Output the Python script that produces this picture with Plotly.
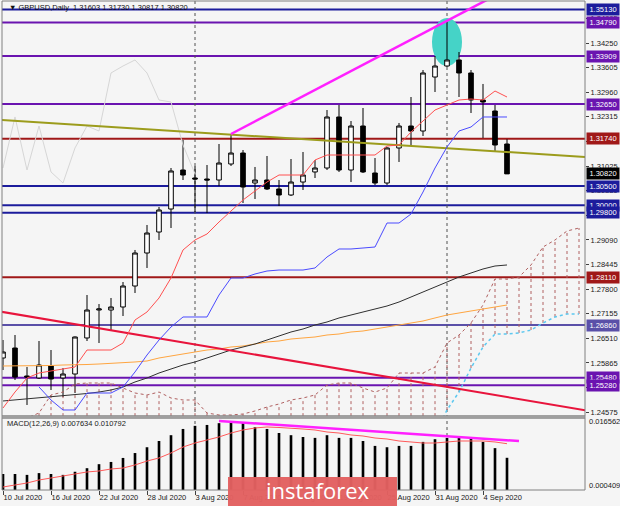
import plotly.graph_objects as go

# ---------------- data (daily GBPUSD, bar index 0 = 10 Jul 2020) ----------------
opens = [1.25995, 1.26257, 1.25524, 1.25471, 1.25786, 1.25471, 1.25576, 1.26520, 1.27253, 1.27253,
         1.27332, 1.27882, 1.28747, 1.29297, 1.29900, 1.30922, 1.30712, 1.30686, 1.30660, 1.31079,
         1.31367, 1.30581, 1.30660, 1.30424, 1.30267, 1.30607, 1.30870, 1.30974, 1.32311, 1.30922,
         1.32075, 1.30843, 1.30581, 1.31499, 1.32075, 1.31944, 1.33359, 1.33647, 1.33805, 1.33464,
         1.32756, 1.32468, 1.31603]
highs = [1.26467, 1.26598, 1.25760, 1.26441, 1.26205, 1.25733, 1.26560, 1.27646, 1.27410, 1.27568,
         1.27987, 1.28826, 1.29481, 1.29952, 1.30974, 1.31708, 1.31027, 1.31053, 1.31603, 1.31865,
         1.31446, 1.31001, 1.31289, 1.30660, 1.31210, 1.31394, 1.31184, 1.32494, 1.32625, 1.32206,
         1.32547, 1.31236, 1.31520, 1.32154, 1.32835, 1.33542, 1.33909, 1.34820, 1.34014, 1.33542,
         1.33176, 1.32625, 1.31730]
lows = [1.25681, 1.25419, 1.24764, 1.25445, 1.25157, 1.24973, 1.25078, 1.26441, 1.26388, 1.26703,
        1.27096, 1.27699, 1.28354, 1.29088, 1.29402, 1.30660, 1.29821, 1.29795, 1.30503, 1.31027,
        1.30057, 1.30162, 1.30398, 1.29979, 1.30241, 1.30398, 1.30712, 1.30922, 1.30870, 1.30607,
        1.30843, 1.30529, 1.30529, 1.31132, 1.31577, 1.31813, 1.32966, 1.33620, 1.32835, 1.32416,
        1.31761, 1.31394, 1.30817]
closes = [1.26153, 1.25497, 1.25497, 1.25812, 1.25445, 1.25576, 1.26546, 1.27253, 1.27280, 1.27332,
          1.27882, 1.28747, 1.29271, 1.29874, 1.30896, 1.30791, 1.30686, 1.30660, 1.31105, 1.31367,
          1.30476, 1.30660, 1.30424, 1.30267, 1.30607, 1.30791, 1.30974, 1.32311, 1.30922, 1.32075,
          1.30870, 1.30581, 1.31499, 1.32075, 1.31944, 1.33464, 1.33647, 1.33805, 1.33464, 1.32756,
          1.32704, 1.31577, 1.30820]

tenkan = [1.24685, 1.25104, 1.25471, 1.25602, 1.25655, 1.25707, 1.25760, 1.26205, 1.26205, 1.26205,
          1.26388, 1.26991, 1.27201, 1.27568, 1.28092, 1.28826, 1.29088, 1.29245, 1.29559, 1.29848,
          1.30136, 1.30372, 1.30607, 1.30791, 1.30791, 1.30791, 1.31184, 1.31315, 1.31315, 1.31315,
          1.31315, 1.31315, 1.31551, 1.31577, 1.31918, 1.32206, 1.32494, 1.32625, 1.32756, 1.32782,
          1.32756, 1.32992, 1.32835]
kijun = [None, None, None, 1.25236, 1.24895, 1.24633, 1.24633, 1.25078, 1.25078, 1.25078,
         1.25236, 1.25629, 1.26074, 1.26467, 1.26808, 1.27070, 1.27070, 1.27070, 1.27646, 1.28092,
         1.28092, 1.28197, 1.28275, 1.28301, 1.28301, 1.28301, 1.28354, 1.28642, 1.28852, 1.28852,
         1.28878, 1.28904, 1.29533, 1.29533, 1.29769, 1.30345, 1.30974, 1.31525, 1.31944, 1.32049,
         1.32311, 1.32311, 1.32311]
ma_black = [1.24869, 1.24895, 1.24921, 1.24947, 1.24973, 1.25000, 1.25026, 1.25065, 1.25104, 1.25157,
            1.25236, 1.25367, 1.25471, 1.25602, 1.25707, 1.25812, 1.25891, 1.25995, 1.26100, 1.26205,
            1.26284, 1.26362, 1.26467, 1.26572, 1.26677, 1.26755, 1.26860, 1.26939, 1.27044, 1.27122,
            1.27201, 1.27280, 1.27358, 1.27463, 1.27594, 1.27725, 1.27856, 1.27987, 1.28118, 1.28223,
            1.28328, 1.28406, 1.28433]
ma_orange = [1.25786, 1.25786, 1.25786, 1.25786, 1.25799, 1.25812, 1.25812, 1.25825, 1.25838, 1.25851,
             1.25864, 1.25891, 1.25917, 1.25995, 1.26048, 1.26100, 1.26153, 1.26205, 1.26231, 1.26284,
             1.26310, 1.26362, 1.26415, 1.26441, 1.26493, 1.26520, 1.26546, 1.26598, 1.26624, 1.26677,
             1.26703, 1.26755, 1.26808, 1.26860, 1.26913, 1.26965, 1.27044, 1.27122, 1.27175, 1.27227,
             1.27280, 1.27332, 1.27384]
# Ichimoku cloud spans (bars 0..48, i.e. shifted 26 bars forward)
span_a = [1.24109, 1.24266, 1.24423, 1.24554, 1.25026, 1.25104, 1.25314, 1.25340, 1.25340, 1.25340,
          1.25209, 1.25078, 1.25026, 1.25104, 1.24947, 1.24895, 1.24895, 1.24554, 1.24502, 1.24502,
          1.24528, 1.24607, 1.24711, 1.24790, 1.24895, 1.24947, 1.25026, 1.25288, 1.25340, 1.25340,
          1.25209, 1.25104, 1.25209, 1.25602, 1.25602, 1.25602, 1.25760, 1.26388, 1.26598, 1.26913,
          1.27384, 1.28066, 1.28066, 1.28118, 1.28433, 1.28904, 1.29088, 1.29323, 1.29402]
span_b = [1.2400] * 37 + [1.24633, 1.25104, 1.25733, 1.26284, 1.26624, 1.26624, 1.26651, 1.26729,
                          1.26913, 1.27070, 1.27148, 1.27148]
chikou_shift = 26

macd_hist = [0.0040, 0.0040, 0.0038, 0.0042, 0.0040, 0.0038, 0.0045, 0.0053, 0.0062, 0.0067,
             0.0076, 0.0087, 0.0100, 0.0114, 0.0127, 0.0141, 0.0148, 0.0150, 0.0154, 0.0157,
             0.0154, 0.0145, 0.0141, 0.0132, 0.0127, 0.0123, 0.0121, 0.0127, 0.0121, 0.0121,
             0.0114, 0.0103, 0.0100, 0.0103, 0.0103, 0.0112, 0.0118, 0.0121, 0.0125, 0.0121,
             0.0112, 0.0098, 0.007634]
macd_signal = [0.00108, 0.00153, 0.00198, 0.00265, 0.00310, 0.00355, 0.00400, 0.00445, 0.00467, 0.00512,
               0.00534, 0.00602, 0.00691, 0.00759, 0.00871, 0.01005, 0.01095, 0.01162, 0.01230, 0.01319,
               0.01387, 0.01432, 0.01454, 0.01443, 0.01432, 0.01409, 0.01387, 0.01342, 0.01319, 0.01275,
               0.01252, 0.01207, 0.01185, 0.01140, 0.01118, 0.01095, 0.01095, 0.01118, 0.01140, 0.01140,
               0.01140, 0.01118, 0.010792]

level_values = [1.35130, 1.34790, 1.33909, 1.32650, 1.31740, 1.30500, 1.30000, 1.29800,
                1.28110, 1.26860, 1.25480, 1.25280]
level_colors = ["#1c1c9c", "#6a14b0", "#6a14b0", "#6a14b0", "#a01818", "#1c1c9c", "#1c1c9c", "#1c1c9c",
                "#a01818", "#5a50a8", "#6a14b0", "#6a14b0"]
last_price = 1.30820

olive_tl_x, olive_tl_y = [-1, 49], [1.32248, 1.31253]
magenta_tl_x, magenta_tl_y = [19, 42], [1.31865, 1.35655]
red_tl_x, red_tl_y = [-1, 49], [1.27253, 1.24600]
macd_tl_x, macd_tl_y = [18, 43], [0.0159, 0.0114]
ellipse_x, ellipse_y = [35.75, 38.25], [1.33647, 1.34905]
month_start_idx = [16, 37]

price_ticks = [1.24575, 1.25220, 1.25865, 1.26510, 1.27155, 1.27800, 1.28445, 1.29090, 1.29735,
               1.30380, 1.31025, 1.31670, 1.32315, 1.32960, 1.33605, 1.34250, 1.34895]
date_idx = [0, 4, 8, 12, 16, 20, 24, 28, 32, 36, 40]
date_labels = ["10 Jul 2020", "16 Jul 2020", "22 Jul 2020", "28 Jul 2020", "3 Aug 2020", "7 Aug 2020",
               "13 Aug 2020", "19 Aug 2020", "25 Aug 2020", "31 Aug 2020", "4 Sep 2020"]

# ---------------- figure ----------------
N = len(closes)
bars = list(range(N))
cloud_x = list(range(len(span_a)))
FONT = "Liberation Sans, Arial, sans-serif"

fig = go.Figure()

# cloud hatching
hx, hy = [], []
for i in cloud_x:
    if span_a[i] > span_b[i]:
        hx += [i, i, None]
        hy += [span_b[i], span_a[i], None]
fig.add_trace(go.Scatter(x=hx, y=hy, mode="lines", line=dict(color="#b06060", width=1, dash="dot"),
                         hoverinfo="skip"))
fig.add_trace(go.Scatter(x=cloud_x, y=span_a, mode="lines", line=dict(color="#b06060", width=1, dash="dot")))
fig.add_trace(go.Scatter(x=cloud_x, y=span_b, mode="lines", line=dict(color="#5cc8f0", width=1.5, dash="dot")))

# chikou span
ch_y = closes[chikou_shift:]
fig.add_trace(go.Scatter(x=list(range(len(ch_y))), y=ch_y, mode="lines",
                         line=dict(color="#d6d6d6", width=1)))

fig.add_trace(go.Scatter(x=bars, y=ma_orange, mode="lines", line=dict(color="#ffa540", width=1)))
fig.add_trace(go.Scatter(x=bars, y=ma_black, mode="lines", line=dict(color="#303030", width=1)))
fig.add_trace(go.Scatter(x=red_tl_x, y=red_tl_y, mode="lines", line=dict(color="#e8143c", width=2)))
fig.add_trace(go.Scatter(x=olive_tl_x, y=olive_tl_y, mode="lines", line=dict(color="#9c9c1c", width=2)))
fig.add_trace(go.Scatter(x=magenta_tl_x, y=magenta_tl_y, mode="lines", line=dict(color="#ff20ff", width=2.5)))
fig.add_trace(go.Scatter(x=bars, y=kijun, mode="lines", line=dict(color="#4a4aff", width=1)))
fig.add_trace(go.Scatter(x=bars, y=tenkan, mode="lines", line=dict(color="#ff5050", width=1)))

fig.add_trace(go.Candlestick(
    x=bars, open=opens, high=highs, low=lows, close=closes,
    increasing=dict(line=dict(color="#000000", width=1), fillcolor="#ffffff"),
    decreasing=dict(line=dict(color="#000000", width=1), fillcolor="#000000"),
    whiskerwidth=0, xaxis="x", yaxis="y"))

# MACD panel
fig.add_trace(go.Bar(x=bars, y=macd_hist, base=0, width=0.22, marker=dict(color="#000000", line=dict(width=0)),
                     xaxis="x2", yaxis="y2"))
fig.add_trace(go.Scatter(x=bars, y=macd_signal, mode="lines", line=dict(color="#ff5a5a", width=1),
                         xaxis="x2", yaxis="y2"))
fig.add_trace(go.Scatter(x=macd_tl_x, y=macd_tl_y, mode="lines", line=dict(color="#ff20ff", width=2.5),
                         xaxis="x2", yaxis="y2"))

shapes = []
shapes.append(dict(type="circle", xref="x", yref="y", x0=ellipse_x[0], x1=ellipse_x[1],
                   y0=ellipse_y[0], y1=ellipse_y[1], fillcolor="#45d3c7", line=dict(width=0), layer="below"))
for v, c in zip(level_values, level_colors):
    shapes.append(dict(type="line", xref="paper", yref="y", x0=0, x1=1, y0=v, y1=v,
                       line=dict(color=c, width=2), layer="below"))
for m in month_start_idx:
    shapes.append(dict(type="line", xref="x", yref="paper", x0=m, x1=m, y0=0, y1=1,
                       line=dict(color="#505050", width=1, dash="dot"), layer="below"))
# panel frames
shapes.append(dict(type="rect", xref="paper", yref="paper", x0=0, x1=1, y0=0.15133, y1=1,
                   line=dict(color="#808080", width=1)))
shapes.append(dict(type="rect", xref="paper", yref="paper", x0=0, x1=1, y0=0, y1=0.14724,
                   line=dict(color="#808080", width=1)))
shapes.append(dict(type="rect", xref="paper", yref="paper", x0=0, x1=1, y0=0.14724, y1=0.15133,
                   fillcolor="#b4b4b4", line=dict(color="#8a8a8a", width=1)))
# watermark banner
shapes.append(dict(type="rect", xref="paper", yref="paper", x0=0.38765, x1=0.6775, y0=-0.0328, y1=0.0266,
                   fillcolor="rgba(226,96,96,0.97)", line=dict(width=0), layer="above"))

ann = []
ann.append(dict(text="▼ GBPUSD,Daily  1.31603 1.31730 1.30817 1.30820", xref="paper", yref="paper",
                x=0.0086, y=0.9857, xanchor="left", yanchor="middle", showarrow=False,
                font=dict(family=FONT, size=7.5, color="#101010")))
ann.append(dict(text="MACD(12,26,9) 0.007634 0.010792", xref="paper", yref="paper",
                x=0.005, y=0.135, xanchor="left", yanchor="middle", showarrow=False,
                font=dict(family=FONT, size=7.5, color="#202020")))
ann.append(dict(text="0.016562", xref="paper", yref="paper", x=1, y=0.1391, xanchor="left", yanchor="middle",
                xshift=2, showarrow=False, font=dict(family=FONT, size=7.5, color="#202020")))
ann.append(dict(text="0.000409", xref="paper", yref="paper", x=1, y=0.0082, xanchor="left", yanchor="middle",
                xshift=2, showarrow=False, font=dict(family=FONT, size=7.5, color="#202020")))
for v, c in zip(level_values, level_colors):
    ann.append(dict(text=f"{v:.5f}", xref="paper", yref="y", x=1, y=v, xanchor="left", yanchor="middle",
                    xshift=1, showarrow=False, bgcolor=c, borderpad=1, width=30, height=9,
                    font=dict(family=FONT, size=7.5, color="#ffffff")))
ann.append(dict(text=f"{last_price:.5f}", xref="paper", yref="y", x=1, y=last_price, xanchor="left",
                yanchor="middle", xshift=1, showarrow=False, bgcolor="#000000", borderpad=1, width=30, height=9,
                font=dict(family=FONT, size=7.5, color="#ffffff")))
ann.append(dict(text="instaforex", xref="paper", yref="paper", x=0.5420, y=0.0, xanchor="center",
                yanchor="middle", showarrow=False, font=dict(family="Open Sans, sans-serif", size=22, color="#ffffff")))

xr = [-1 / 12, 48.5]
fig.update_layout(
    width=620, height=506, margin=dict(l=2, r=35, t=1, b=16),
    paper_bgcolor="#f5f5f5", plot_bgcolor="#f5f5f5", showlegend=False, boxgap=0.45,
    shapes=shapes, annotations=ann, hovermode=False,
    xaxis=dict(domain=[0, 1], range=xr, anchor="y", showticklabels=False, showgrid=False, zeroline=False,
               rangeslider=dict(visible=False), ticks=""),
    yaxis=dict(domain=[0.15133, 1], range=[1.244755, 1.353506], side="right", anchor="x",
               tickvals=price_ticks, ticktext=[f"{t:.5f}" for t in price_ticks], ticks="outside", ticklen=3,
               tickcolor="#404040", tickfont=dict(family=FONT, size=7.5, color="#202020"),
               showgrid=False, zeroline=False),
    xaxis2=dict(domain=[0, 1], range=xr, anchor="y2", tickvals=date_idx, ticktext=date_labels,
                ticks="outside", ticklen=4, tickcolor="#404040", ticklabelposition="outside right",
                tickfont=dict(family=FONT, size=7.5, color="#202020"), tickangle=0,
                showgrid=False, zeroline=False),
    yaxis2=dict(domain=[0, 0.14724], range=[0.000409, 0.016559], side="right", anchor="x2",
                showticklabels=False, showgrid=False, zeroline=False, ticks=""),
)

fig.write_html("out.html", config={"displayModeBar": False},
               post_script="document.body.style.margin='0';document.body.style.padding='0';")
